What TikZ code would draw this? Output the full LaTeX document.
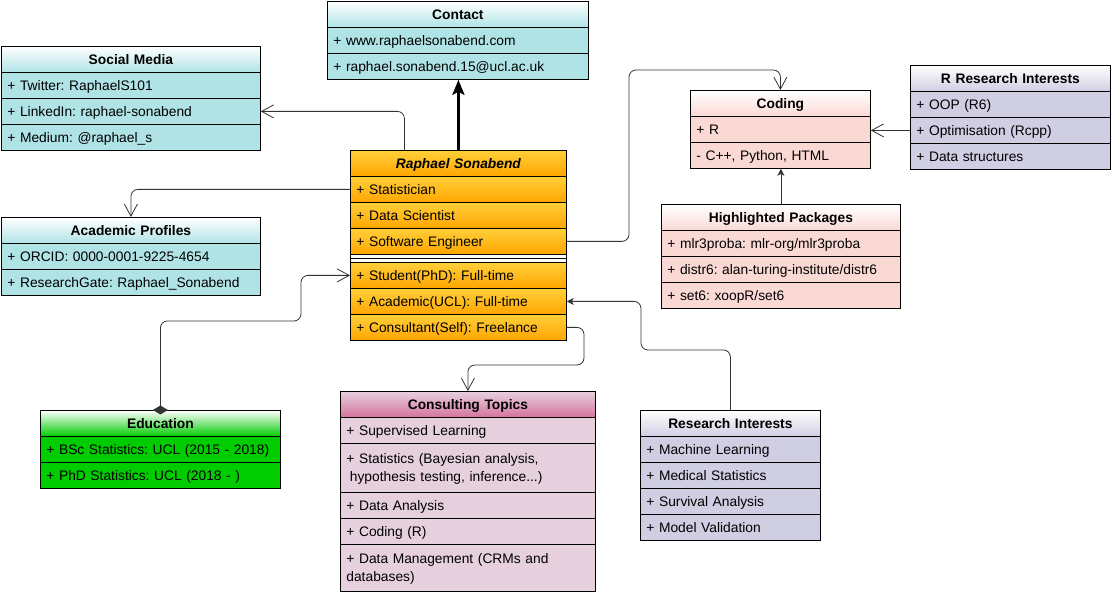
\documentclass[tikz,border=0pt]{standalone}
\usepackage{fontspec}
\setmainfont{Liberation Sans}
\usetikzlibrary{arrows.meta,calc}
\definecolor{cy}{HTML}{B0E3E6}
\definecolor{orT}{HTML}{FFD03A}
\definecolor{orB}{HTML}{FFA500}
\definecolor{co}{HTML}{FAD9D5}
\definecolor{pu}{HTML}{D0CEE2}
\definecolor{gr}{HTML}{00CC00}
\definecolor{ctr}{HTML}{E6D0DE}
\definecolor{ctB}{HTML}{D5739D}
\definecolor{ln}{HTML}{333333}
\newcommand\fs{\fontsize{13.8}{18}\selectfont\frenchspacing}
\newcommand\mystrut{\rule[-3pt]{0pt}{16pt}}
\tikzset{
  box/.style={draw=black, line width=0.8pt, anchor=north west, inner xsep=6pt, inner ysep=0pt, font=\fs},
  hdr/.style={box, align=center, font=\fs\bfseries, execute at begin node=\mystrut, execute at end node=\mystrut},
  row/.style={box, align=left, execute at begin node=\mystrut, execute at end node=\mystrut},
  conn/.style={draw=ln, line width=0.8pt, rounded corners=7pt},
  oarr/.tip={Straight Barb[length=12pt,width=13pt]},
  farr/.tip={Stealth[length=7pt,width=7pt,inset=2pt]},
  bigarr/.style={draw=black, line width=3pt, -{Stealth[length=15pt,width=12pt,inset=3pt]}},
}
\newcommand\uhead[8]{\pgfmathsetmacro\tw{#4-12}\node[hdr, top color=#6, bottom color=#7, minimum width=#4pt, minimum height=#5pt, text width=\tw pt] (#1) at (#2,#3) {#8};}
\newcommand\urow[7]{\pgfmathsetmacro\tw{#4-12}\node[row, #6, minimum width=#4pt, minimum height=#5pt, text width=\tw pt] (#1) at (#2,#3) {#7};}
\begin{document}
\begin{tikzpicture}[x=1pt,y=-1pt]
\useasboundingbox (0,0) rectangle (1111,593);
% Contact
\uhead{contact}{327}{1}{261}{26}{white}{cy}{Contact}
\urow{contact1}{327}{27}{261}{26}{fill=cy}{+ www.raphaelsonabend.com}
\urow{contact2}{327}{53}{261}{26}{fill=cy}{+ raphael.sonabend.15@ucl.ac.uk}
% Social Media
\uhead{social}{1}{46}{259}{26}{white}{cy}{Social Media}
\urow{social1}{1}{72}{259}{26}{fill=cy}{+ Twitter: RaphaelS101}
\urow{social2}{1}{98}{259}{26}{fill=cy}{+ LinkedIn: raphael-sonabend}
\urow{social3}{1}{124}{259}{26}{fill=cy}{+ Medium: @raphael\_s}
% Academic Profiles
\uhead{ap}{1}{217}{259}{26}{white}{cy}{Academic Profiles}
\urow{ap1}{1}{243}{259}{26}{fill=cy}{+ ORCID: 0000-0001-9225-4654}
\urow{ap2}{1}{269}{259}{26}{fill=cy}{+ ResearchGate: Raphael\_Sonabend}
% Raphael Sonabend
\uhead{rs}{350}{150}{216}{26}{orT}{orB}{\itshape Raphael Sonabend}
\urow{rs1}{350}{176}{216}{26}{top color=orT,bottom color=orB}{+ Statistician}
\urow{rs2}{350}{202}{216}{26}{top color=orT,bottom color=orB}{+ Data Scientist}
\urow{rs3}{350}{228}{216}{26}{top color=orT,bottom color=orB}{+ Software Engineer}
\node[box, fill=white, minimum width=216pt, minimum height=8pt, inner sep=0pt] (rsdiv) at (350,254) {};
\draw[line width=0.8pt] (rsdiv.west) -- (rsdiv.east);
\urow{rs4}{350}{262}{216}{26}{top color=orT,bottom color=orB}{+ Student(PhD): Full-time}
\urow{rs5}{350}{288}{216}{26}{top color=orT,bottom color=orB}{+ Academic(UCL): Full-time}
\urow{rs6}{350}{314}{216}{26}{top color=orT,bottom color=orB}{+ Consultant(Self): Freelance}
% Coding
\uhead{coding}{690}{90}{180}{26}{white}{co}{Coding}
\urow{coding1}{690}{116}{180}{26}{fill=co}{+ R}
\urow{coding2}{690}{142}{180}{26}{fill=co}{- C++, Python, HTML}
% R Research Interests
\uhead{rr}{910}{65}{200}{26}{white}{pu}{R Research Interests}
\urow{rr1}{910}{91}{200}{26}{fill=pu}{+ OOP (R6)}
\urow{rr2}{910}{117}{200}{26}{fill=pu}{+ Optimisation (Rcpp)}
\urow{rr3}{910}{143}{200}{26}{fill=pu}{+ Data structures}
% Highlighted Packages
\uhead{hp}{661}{204}{239}{26}{white}{co}{Highlighted Packages}
\urow{hp1}{661}{230}{239}{26}{fill=co}{+ mlr3proba: mlr-org/mlr3proba}
\urow{hp2}{661}{256}{239}{26}{fill=co}{+ distr6: alan-turing-institute/distr6}
\urow{hp3}{661}{282}{239}{26}{fill=co}{+ set6: xoopR/set6}
% Education
\uhead{edu}{40}{410}{240}{26}{white}{gr}{Education}
\urow{edu1}{40}{436}{240}{26}{fill=gr}{+ BSc Statistics: UCL (2015 - 2018)}
\urow{edu2}{40}{462}{240}{26}{fill=gr}{+ PhD Statistics: UCL (2018 - )}
% Consulting Topics
\uhead{ct}{340}{391}{255}{26}{ctr}{ctB}{Consulting Topics}
\urow{ct1}{340}{417}{255}{26}{fill=ctr}{+ Supervised Learning}
\urow{ct2}{340}{443}{255}{49}{fill=ctr}{+ Statistics (Bayesian analysis,\\\hspace*{3.5pt}hypothesis testing, inference...)}
\urow{ct3}{340}{492}{255}{26}{fill=ctr}{+ Data Analysis}
\urow{ct4}{340}{518}{255}{26}{fill=ctr}{+ Coding (R)}
\urow{ct5}{340}{544}{255}{47}{fill=ctr}{+ Data Management (CRMs and\\databases)}
% Research Interests
\uhead{ri}{640}{410}{180}{26}{white}{pu}{Research Interests}
\urow{ri1}{640}{436}{180}{26}{fill=pu}{+ Machine Learning}
\urow{ri2}{640}{462}{180}{26}{fill=pu}{+ Medical Statistics}
\urow{ri3}{640}{488}{180}{26}{fill=pu}{+ Survival Analysis}
\urow{ri4}{640}{514}{180}{26}{fill=pu}{+ Model Validation}
% Connectors
\coordinate (c1) at (629,70);
\coordinate (e1) at (301,321);
\coordinate (k1) at (584,365);
\coordinate (r1) at (641,350);
\draw[bigarr] (rs.north) -- (rs.north |- contact2.south);
\draw[conn, -oarr] ([xshift=-54pt]rs.north) |- (social2.east);
\draw[conn, -oarr] (rs1.west) -| (ap.north);
\draw[conn, -oarr] (rs3.east) -| (c1) -| (coding.north);
\draw[conn, -oarr] (rr2.west) -- (rr2.west -| coding1.east);
\draw[conn, -farr] (hp.north) -- (hp.north |- coding2.south);
\draw[conn, {Diamond[length=9pt,width=15pt]}-oarr, shorten <=-4.5pt] (edu.north) |- (e1) |- (rs4.west);
\draw[conn, -oarr] (rs6.east) -| (k1) -| (ct.north);
\draw[conn, -farr] (ri.north) |- (r1) |- (rs5.east);
\end{tikzpicture}
\end{document}
